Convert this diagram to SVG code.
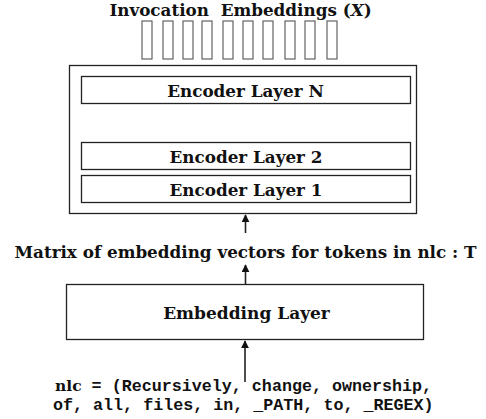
<svg xmlns="http://www.w3.org/2000/svg" width="486" height="419" viewBox="0 0 486 419">
  <defs>
    <marker id="arrow" viewBox="0 0 10 10" refX="9" refY="5" markerWidth="5" markerHeight="5" orient="auto">
      <path d="M0,0 L10,5 L0,10 z" fill="#111"/>
    </marker>
  </defs>
  <style>
    .lbl { font-family: "DejaVu Serif", serif; font-weight: bold; fill: #111; }
    .mono { font-family: "Liberation Mono", monospace; font-weight: bold; fill: #111; }
    .box { fill: #fff; stroke: #222; stroke-width: 1.3; }
    .vec { fill: #fff; stroke: #555; stroke-width: 1.1; }
    .conn { stroke: #222; stroke-width: 1.6; fill: none; marker-end: url(#arrow); }
  </style>
  <rect width="486" height="419" fill="#fff"/>

  <!-- output embeddings -->
  <g id="output">
    <text class="lbl" x="240.5" y="16" font-size="16.8" text-anchor="middle" style="white-space:pre">Invocation  Embeddings (<tspan font-style="italic">X</tspan>)</text>
    <rect class="vec" x="142" y="21" width="10" height="38"/>
    <rect class="vec" x="163" y="21" width="10" height="38"/>
    <rect class="vec" x="183" y="21" width="10" height="38"/>
    <rect class="vec" x="202" y="21" width="10" height="38"/>
    <rect class="vec" x="223" y="21" width="10" height="38"/>
    <rect class="vec" x="243" y="21" width="10" height="38"/>
    <rect class="vec" x="263" y="21" width="10" height="38"/>
    <rect class="vec" x="285" y="21" width="10" height="38"/>
    <rect class="vec" x="305" y="21" width="10" height="38"/>
    <rect class="vec" x="327" y="21" width="10" height="38"/>
  </g>

  <!-- encoder stack -->
  <g id="encoder">
    <rect class="box" x="69.5" y="65.5" width="347" height="148"/>
    <g id="layerN">
      <rect class="box" x="81.5" y="76.5" width="329" height="27"/>
      <text class="lbl" x="245.5" y="97" font-size="16.8" text-anchor="middle">Encoder Layer N</text>
    </g>
    <g id="layer2">
      <rect class="box" x="81.5" y="142.5" width="329" height="27"/>
      <text class="lbl" x="246" y="163" font-size="16.8" text-anchor="middle">Encoder Layer 2</text>
    </g>
    <g id="layer1">
      <rect class="box" x="81.5" y="175.5" width="329" height="27"/>
      <text class="lbl" x="246" y="196" font-size="16.8" text-anchor="middle">Encoder Layer 1</text>
    </g>
  </g>

  <!-- token matrix label -->
  <g id="matrix">
    <text class="lbl" x="245.5" y="258" font-size="16.8" text-anchor="middle">Matrix of embedding vectors for tokens in nlc : T</text>
  </g>

  <!-- embedding layer -->
  <g id="embedding">
    <rect class="box" x="66.5" y="284.5" width="357" height="55"/>
    <text class="lbl" x="246.5" y="319" font-size="17" text-anchor="middle">Embedding Layer</text>
  </g>

  <!-- input tokens -->
  <g id="input">
    <text x="55" y="391" font-size="16.7"><tspan class="lbl" font-size="15.5">nlc</tspan><tspan class="mono"> = (Recursively, change, ownership,</tspan></text>
    <text class="mono" x="53" y="410" font-size="16.7">of, all, files, in, _PATH, to, _REGEX)</text>
  </g>

  <!-- connectors -->
  <g id="connectors">
    <line class="conn" x1="245.5" y1="233" x2="245.5" y2="215"/>
    <line class="conn" x1="245.5" y1="284" x2="245.5" y2="265"/>
    <line class="conn" x1="245" y1="382" x2="245" y2="341"/>
  </g>
</svg>
